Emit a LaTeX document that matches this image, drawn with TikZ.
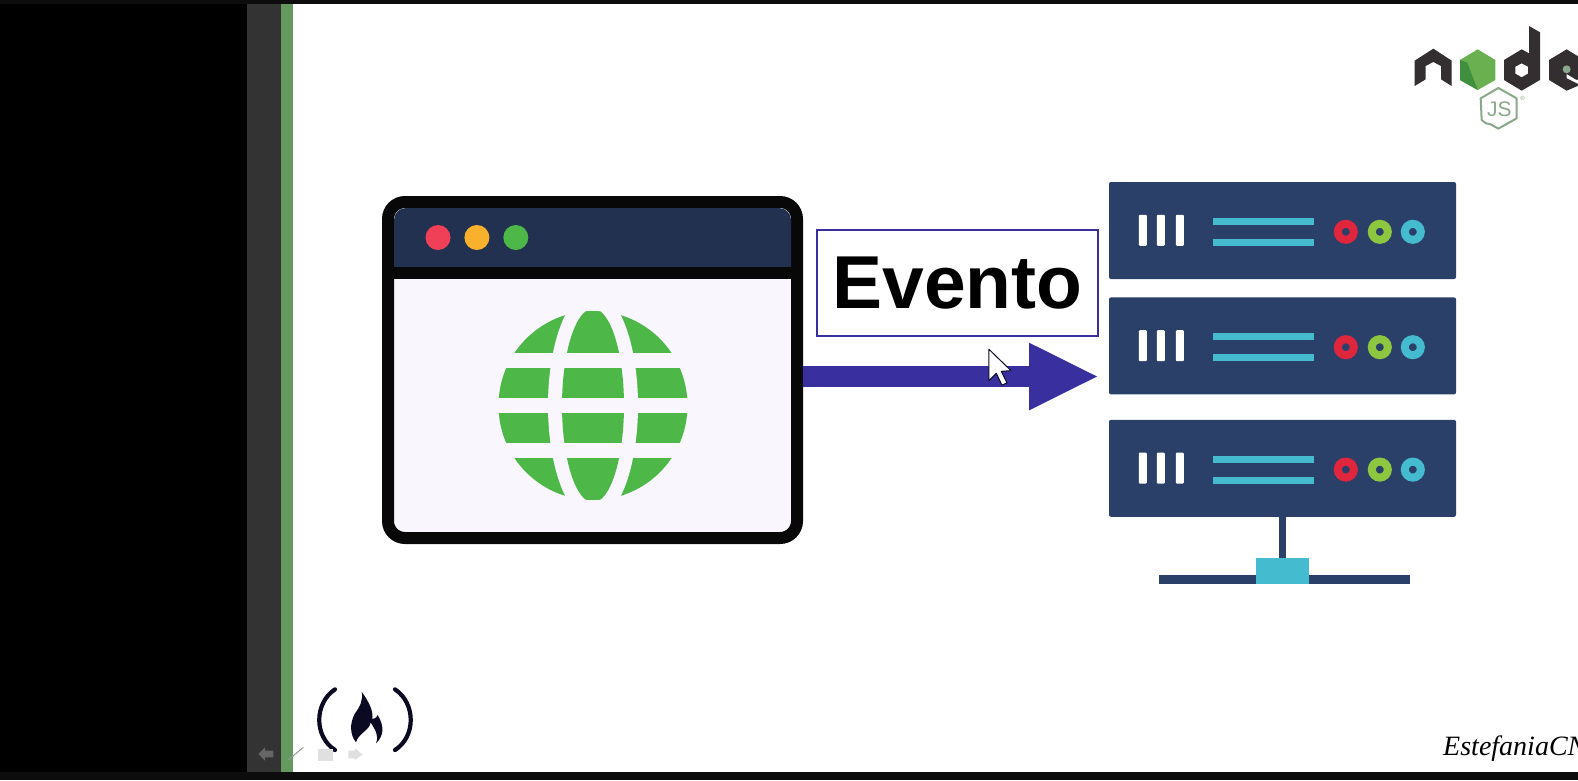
\documentclass[tikz,border=0pt]{standalone}
\usepackage{fontspec}
\setmainfont{Liberation Sans}
\newfontfamily\signfont{Liberation Serif}
\usetikzlibrary{arrows.meta,positioning}
\definecolor{winnavy}{HTML}{22314F}
\definecolor{winbg}{HTML}{F9F7FD}
\definecolor{globegreen}{HTML}{4DB848}
\definecolor{dotred}{HTML}{F04058}
\definecolor{dotorange}{HTML}{F9B02D}
\definecolor{arrowblue}{HTML}{3A2F9E}
\definecolor{srvblue}{HTML}{2B4069}
\definecolor{srvcyan}{HTML}{45BBD0}
\definecolor{ledred}{HTML}{E0263C}
\definecolor{ledgreen}{HTML}{8DC63F}
\definecolor{nodedark}{HTML}{332F30}
\definecolor{nodegreen}{HTML}{6AAF50}
\definecolor{nodedeep}{HTML}{3F8F3F}
\definecolor{jsgrey}{HTML}{8AA88A}
\definecolor{fccnavy}{HTML}{0A0A23}
\definecolor{stripgreen}{HTML}{659A5E}

\begin{document}
\begin{tikzpicture}[x=1pt,y=-1pt,>=latex]
	\tikzset{window/.style={draw=black!97,line width=12pt,rounded corners=17pt,fill=winbg,minimum width=409pt,minimum height=336pt,inner sep=0pt},
		eventbox/.style={draw=arrowblue,line width=2.2pt,minimum width=281pt,minimum height=106pt,inner sep=0pt,font=\fontsize{75}{80}\selectfont\bfseries},
		server/.style={fill=srvblue,rounded corners=2pt,minimum width=347pt,minimum height=97pt,inner sep=0pt},
		dot/.style={circle,minimum size=25pt,inner sep=0pt},
		led/.style={circle,draw=#1,line width=8pt,fill=srvblue,minimum size=16pt,inner sep=0pt},
	}
	\useasboundingbox (0,0) rectangle (1578,780);
	\fill[white] (0,0) rectangle (1578,780);
	% slide frame
	\fill[black] (0,0) rectangle (247,780);
	\fill[black!80] (247,4) rectangle (281,772);
	\fill[stripgreen] (281,4) rectangle (293,772);
	\fill[black!95] (0,0) rectangle (1578,4);
	\fill[black!95] (0,772) rectangle (1578,780);

	% browser window
	\node [window] (browser) at (592.5,370) {};
	\fill[winnavy] (394,267) -- (394,220) arc[start angle=180,end angle=270,radius=12] -- (779,208) arc[start angle=270,end angle=360,radius=12] -- (791,267) -- cycle;
	\fill[black!97] (394,267) rectangle (791,279);
	\node [dot,fill=dotred] (dotr) at (438,237.5) {};
	\node [dot,right = 13.5pt of dotr,fill=dotorange] (doto) {};
	\node [dot,right = 13.5pt of doto,fill=globegreen] (dotg) {};

	% globe
	\fill[globegreen] (593,405.5) circle[radius=94.5];
	\fill[winbg] (593,405.5) ellipse[x radius=45,y radius=115];
	\begin{scope}
		\clip (593,405.5) circle[radius=94.5];
		\fill[globegreen] (593,405.5) ellipse[x radius=31,y radius=97];
	\end{scope}
	\fill[winbg] (480,353) rectangle (700,368);
	\fill[winbg] (480,398) rectangle (700,413);
	\fill[winbg] (480,443) rectangle (700,458);

	% event label
	\node [eventbox] (evento) at (957.5,283) {\raisebox{-2pt}{Evento}};

	% servers
	\node [server] (srva) at (1282.5,230.5) {};
	\node [server,below = 18pt of srva] (srvb) {};
	\node [server,below = 25pt of srvb] (srvc) {};
	\foreach \s in {srva,srvb,srvc} {
		\begin{scope}[shift={(\s.north west)}]
			\foreach \x in {30,48,67}
				\fill[white,rounded corners=1pt] (\x,33) rectangle ++(8,31);
			\fill[srvcyan] (104,36) rectangle (205,43);
			\fill[srvcyan] (104,57) rectangle (205,64);
			\node [led=ledred] at (237,50) {};
			\node [led=ledgreen] at (271,50) {};
			\node [led=srvcyan] at (304,50) {};
		\end{scope}
	}
	\fill[srvblue] (1159,575) rectangle (1410,584);
	\node [fill=srvcyan,minimum width=53pt,minimum height=26pt,inner sep=0pt] (plug) at (1282.5,571) {};
	\draw[srvblue,line width=7pt] (srvc.south -| plug) -- (plug.north);

	% event arrow
	\coordinate (arrowtip) at (1099,376.5);
	\draw[arrowblue,line width=21pt,-{Triangle[length=70pt,width=62pt]}] ([yshift=-6.5pt]browser.east) -- (arrowtip);

	% mouse pointer
	\begin{scope}[shift={(790,220)},x=.3333pt,y=-.3333pt]
		\draw[fill=white,line width=1pt,draw=fccnavy,line join=round] (597,388) -- (597,482) -- (619,460) -- (636,496) -- (651,488) -- (634,454) -- (663,452) -- cycle;
	\end{scope}

	% node logo
	\begin{scope}
		\clip (1380,4) rectangle (1578,150);
		\begin{scope}[shift={(1380,0)},x=.3333pt,y=-.3333pt]
			\fill[nodedark] (104,258) -- (104,182) -- (160,146) -- (215,182) -- (215,258) -- (183,238) -- (183,198) -- (160,186) -- (137,198) -- (137,238) -- cycle;
			\fill[nodegreen] (293,148) -- (346,180) -- (346,240) -- (293,270) -- (240,240) -- (240,180) -- cycle;
			\fill[nodedeep] (240,180) -- (240,240) -- (293,270) -- (262,188) -- cycle;
			\fill[nodedark,even odd rule] (372,180) -- (425,148) -- (447,160) -- (447,78) -- (480,97) -- (480,240) -- (425,272) -- (372,240) -- cycle
				(425,190) -- (444,200) -- (444,221) -- (425,232) -- (406,221) -- (406,200) -- cycle;
			\fill[nodedark] (507,180) -- (560,148) -- (612,180) -- (612,225) -- (590,240) -- (560,222) -- (560,235) -- (600,255) -- (560,272) -- (507,240) -- cycle;
			\fill[jsgrey] (560,208) circle[radius=12];
			\draw[jsgrey,line width=2pt,line join=round] (355,264) -- (410,295) -- (410,355) -- (355,386) -- (332,373) -- (318,370) -- (305,360) -- (302,295) -- cycle;
			\node [text=jsgrey,inner sep=0pt,font=\fontsize{21}{21}\selectfont] (jslabel) at (358,328) {JS};
			\node [text=jsgrey,inner sep=0pt,font=\fontsize{6}{6}\selectfont] (regmark) at (428,296) {®};
		\end{scope}
	\end{scope}

	% flame logo
	\begin{scope}[shift={(240,660)},x=.3333pt,y=-.3333pt]
		\draw[fccnavy,line width=4.2pt,line cap=round] (285,88) .. controls (222,130) and (222,230) .. (285,270);
		\draw[fccnavy,line width=4.2pt,line cap=round] (465,88) .. controls (528,130) and (528,230) .. (465,270);
	\end{scope}
	\begin{scope}[shift={(340,685)},x=.3333pt,y=-.3333pt]
		\fill[fccnavy] (65,20) .. controls (90,55) and (100,80) .. (97,102) .. controls (108,100) and (112,95) .. (113,90) .. controls (135,125) and (130,155) .. (108,175) .. controls (118,150) and (105,135) .. (92,112) .. controls (90,135) and (55,145) .. (48,172) .. controls (30,150) and (28,115) .. (45,85) .. controls (60,65) and (70,45) .. (65,20) -- cycle;
	\end{scope}

	% slide controls
	\begin{scope}[shift={(240,660)},x=.3333pt,y=-.3333pt]
		\fill[black!60] (55,282) -- (75,262) -- (75,272) -- (100,272) -- (100,292) -- (75,292) -- (75,302) -- cycle;
		\draw[black!40,line width=1pt] (145,300) -- (190,262);
		\fill[black!12] (235,268) rectangle (280,302);
		\fill[black!12] (325,272) -- (345,272) -- (345,265) -- (368,284) -- (345,300) -- (345,295) -- (325,295) -- cycle;
	\end{scope}

	% signature
	\begin{scope}
		\clip (1400,700) rectangle (1578,772);
		\node [anchor=base west,inner sep=0pt,font=\signfont\itshape\fontsize{28}{28}\selectfont] (signature) at (1443,755) {EstefaniaCN};
	\end{scope}
\end{tikzpicture}
\end{document}
